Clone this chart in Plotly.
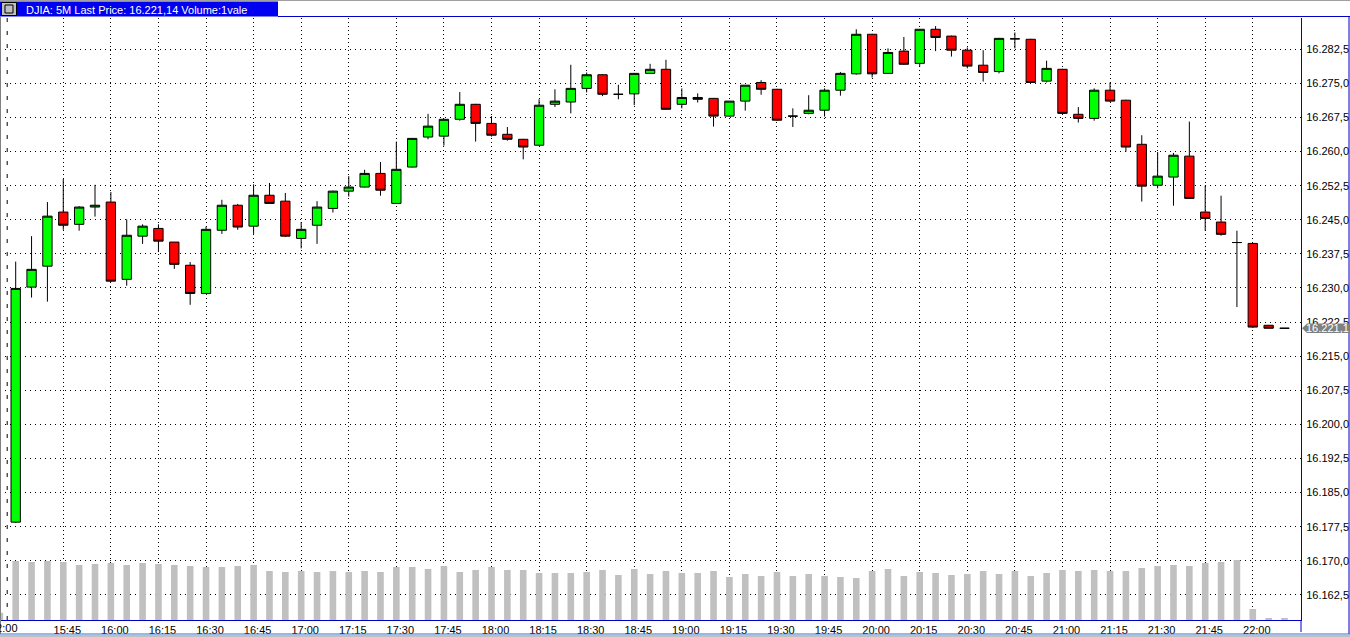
import plotly.graph_objects as go
import pandas as pd

# ---------------- data ----------------
DAY = "2014-01-02"
candle_times = pd.date_range(f"{DAY} 15:30", periods=81, freq="5min")
prev_bar_time = pd.Timestamp(f"{DAY} 15:25")   # last bar of previous session (volume only visible)

open_ = [16178.5, 16230.2, 16234.8, 16246.7, 16244.0, 16247.8, 16248.9, 16231.9, 16241.4, 16243.1,
         16240.1, 16235.0, 16228.8, 16242.7, 16248.2, 16243.6, 16250.4, 16249.1, 16240.9, 16243.8,
         16247.5, 16251.3, 16252.2, 16255.2, 16248.6, 16256.6, 16263.2, 16263.4, 16267.1, 16270.4,
         16266.2, 16263.8, 16262.7, 16261.4, 16270.4, 16270.9, 16273.9, 16276.9, 16272.6, 16272.7,
         16277.2, 16278.1, 16270.4, 16271.9, 16271.7, 16267.8, 16271.1, 16275.2, 16273.7, 16267.8,
         16268.4, 16269.1, 16273.5, 16277.1, 16285.8, 16277.2, 16282.1, 16279.4, 16286.9, 16285.4,
         16282.3, 16279.0, 16277.6, 16284.8, 16284.7, 16275.5, 16278.1, 16268.2, 16267.3, 16273.5,
         16271.3, 16261.6, 16252.6, 16254.4, 16259.0, 16246.7, 16244.5, 16240.0, 16239.8, 16221.8,
         16221.14]
high = [16235.8, 16241.4, 16248.9, 16254.0, 16248.0, 16252.7, 16251.1, 16245.1, 16244.0, 16244.0,
        16240.1, 16235.7, 16243.5, 16249.4, 16248.5, 16252.8, 16253.1, 16250.9, 16244.5, 16249.1,
        16251.4, 16254.6, 16256.0, 16257.7, 16262.2, 16263.0, 16268.3, 16267.2, 16273.1, 16270.5,
        16267.8, 16265.4, 16262.8, 16271.5, 16273.7, 16279.1, 16277.4, 16277.0, 16274.7, 16277.3,
        16279.3, 16280.2, 16273.9, 16272.8, 16271.8, 16271.1, 16274.6, 16275.7, 16273.8, 16269.5,
        16272.4, 16273.9, 16277.5, 16286.9, 16285.9, 16282.7, 16285.2, 16286.9, 16287.6, 16285.5,
        16282.9, 16282.3, 16285.0, 16286.2, 16284.8, 16280.0, 16278.2, 16269.8, 16273.9, 16275.2,
        16271.4, 16263.6, 16259.9, 16259.7, 16266.6, 16252.5, 16250.3, 16242.6, 16239.9, 16221.8,
        16221.14]
low = [16178.3, 16227.9, 16227.0, 16242.8, 16242.6, 16245.7, 16231.3, 16230.5, 16239.7, 16237.9,
       16234.2, 16226.3, 16228.7, 16241.9, 16242.8, 16241.9, 16248.6, 16241.2, 16238.7, 16239.7,
       16246.6, 16250.1, 16252.1, 16250.3, 16248.5, 16256.5, 16262.7, 16261.3, 16266.8, 16262.2,
       16263.3, 16262.4, 16258.3, 16261.3, 16269.8, 16268.4, 16273.0, 16272.2, 16271.5, 16270.2,
       16277.1, 16269.2, 16269.5, 16270.8, 16265.5, 16267.7, 16269.0, 16272.5, 16266.8, 16265.4,
       16268.2, 16267.7, 16272.3, 16276.9, 16276.3, 16277.1, 16279.1, 16278.7, 16282.1, 16280.9,
       16278.3, 16275.4, 16277.2, 16282.7, 16275.1, 16275.2, 16268.3, 16266.4, 16266.8, 16270.9,
       16260.0, 16249.0, 16251.9, 16248.1, 16249.6, 16242.6, 16241.5, 16225.8, 16221.2, 16221.1,
       16221.14]
close = [16229.9, 16234.1, 16245.8, 16243.8, 16247.8, 16248.2, 16231.5, 16241.6, 16243.6, 16240.3,
         16235.2, 16228.8, 16242.9, 16248.2, 16243.4, 16250.4, 16248.6, 16241.4, 16242.9, 16247.8,
         16251.3, 16252.2, 16255.2, 16251.5, 16256.1, 16262.9, 16265.6, 16267.1, 16270.4, 16266.2,
         16263.6, 16262.7, 16261.0, 16270.2, 16271.1, 16273.9, 16276.9, 16272.6, 16272.6, 16277.2,
         16278.1, 16269.3, 16271.9, 16271.5, 16267.8, 16271.1, 16274.6, 16273.7, 16266.9, 16267.8,
         16269.1, 16273.5, 16277.2, 16285.8, 16277.1, 16281.8, 16279.2, 16286.9, 16285.1, 16282.3,
         16278.8, 16277.4, 16284.9, 16284.8, 16275.2, 16278.3, 16268.4, 16267.3, 16273.5, 16271.1,
         16261.0, 16252.4, 16254.6, 16259.2, 16249.7, 16245.3, 16241.8, 16240.0, 16221.4, 16221.14,
         16221.14]

# volume (relative units, no scale shown on the chart)
prev_volume = 0.73
volume = [5.9, 5.8, 5.9, 5.8, 5.5, 5.6, 5.7, 5.5, 5.7, 5.6,
          5.5, 5.4, 5.3, 5.3, 5.4, 5.5, 4.9, 4.8, 4.9, 4.8,
          4.9, 4.8, 4.9, 4.8, 5.3, 5.3, 5.1, 5.4, 4.8, 5.0,
          5.3, 5.0, 5.0, 4.7, 4.7, 4.7, 4.8, 5.0, 4.5, 5.1,
          4.6, 4.9, 4.7, 4.7, 4.9, 4.3, 4.6, 4.4, 4.8, 4.4,
          4.6, 4.4, 4.3, 4.2, 4.9, 5.1, 4.4, 4.8, 4.7, 4.5,
          4.6, 4.9, 4.6, 4.9, 4.4, 4.7, 5.0, 4.9, 5.0, 4.9,
          4.9, 5.2, 5.4, 5.5, 5.4, 5.7, 5.8, 6.0, 1.1, 0.2,
          0.2]

time_tick_labels = ["15:45", "16:00", "16:15", "16:30", "16:45", "17:00", "17:15", "17:30",
                    "17:45", "18:00", "18:15", "18:30", "18:45", "19:00", "19:15", "19:30",
                    "19:45", "20:00", "20:15", "20:30", "20:45", "21:00", "21:15", "21:30",
                    "21:45", "22:00"]
prev_session_label = "22:00"
title_text = "DJIA: 5M Last Price: 16.221,14 Volume:1vale"
last_price = 16221.14
last_price_label = "16.221,1"

# ---------------- geometry helpers (layout decoration only) ----------------
W, H = 1350, 637
PL, PR, PT, PB = 0, 1301, 18, 620
def px(x):
    return (x - PL) / (PR - PL)
def py(y):
    return (PB - y) / (PB - PT)

BLUE = "#0000C8"
FONT = "Liberation Sans, Arial, sans-serif"

fig = go.Figure()

fig.add_trace(go.Bar(
    x=[prev_bar_time] + list(candle_times),
    y=[prev_volume] + volume,
    width=125000,
    marker=dict(color="#C0C0C0", line=dict(width=0)),
    yaxis="y2",
    hoverinfo="skip",
))

fig.add_trace(go.Candlestick(
    x=candle_times, open=open_, high=high, low=low, close=close,
    increasing=dict(fillcolor="#00FF00", line=dict(color="black", width=1)),
    decreasing=dict(fillcolor="#FF0000", line=dict(color="black", width=1)),
    whiskerwidth=0,
    hoverinfo="skip",
))

fig.update_layout(
    width=W, height=H,
    margin=dict(l=PL, r=W - PR, t=PT, b=H - PB, pad=0, autoexpand=False),
    paper_bgcolor="white", plot_bgcolor="white",
    separators=",.",
    showlegend=False,
    boxgap=0.16,
    hovermode=False,
    font=dict(family=FONT, size=11, color="black"),
    xaxis=dict(
        type="date",
        range=[pd.Timestamp(f"{DAY} 15:25:03"), pd.Timestamp(f"{DAY} 22:15:12")],
        tickvals=[pd.Timestamp(f"{DAY} {t}") for t in time_tick_labels],
        ticktext=time_tick_labels,
        showgrid=True, gridcolor="black", gridwidth=1, griddash="1px,3px",
        showline=True, linecolor=BLUE, linewidth=1,
        ticks="", ticklabelshift=4,
        zeroline=False,
        rangeslider=dict(visible=False),
        fixedrange=True,
        tickfont=dict(family=FONT, size=11, color="black"),
    ),
    yaxis=dict(
        side="right",
        range=[16156.98, 16289.38],
        tick0=16162.5, dtick=7.5,
        tickformat=",.1f",
        showgrid=True, gridcolor="black", gridwidth=1, griddash="1px,4px",
        showline=True, linecolor=BLUE, linewidth=1,
        ticks="outside", ticklen=2, tickcolor="rgba(0,0,0,0)",
        zeroline=False, fixedrange=True,
        tickfont=dict(family=FONT, size=11, color="black"),
    ),
    yaxis2=dict(overlaying="y", range=[0, 60.2], visible=False, fixedrange=True),
)

shapes = []
# session separator (dashed)
shapes.append(dict(type="line", xref="paper", yref="paper", x0=px(7.2), x1=px(7.2), y0=0, y1=1,
                   line=dict(color="black", width=1, dash="4px,9px")))
# left grey border
shapes.append(dict(type="line", xref="paper", yref="paper", x0=px(0.5), x1=px(0.5), y0=py(634), y1=py(17),
                   line=dict(color="#808080", width=1)))
# title bar
shapes.append(dict(type="line", xref="paper", yref="paper", x0=0, x1=px(W), y0=py(0.5), y1=py(0.5),
                   line=dict(color="#A0A0A0", width=1)))
shapes.append(dict(type="rect", xref="paper", yref="paper", x0=px(0), x1=px(278), y0=py(16.5), y1=py(1.5),
                   fillcolor="#0000F0", line=dict(width=0), layer="above"))
shapes.append(dict(type="line", xref="paper", yref="paper", x0=px(278), x1=px(W), y0=py(16.5), y1=py(16.5),
                   line=dict(color=BLUE, width=1)))
# small icon in title bar
shapes.append(dict(type="rect", xref="paper", yref="paper", x0=px(1.5), x1=px(16.5), y0=py(15.5), y1=py(2.5),
                   fillcolor="#C0C0C0", line=dict(color="black", width=1), layer="above"))
shapes.append(dict(type="rect", xref="paper", yref="paper", x0=px(5), x1=px(13), y0=py(13), y1=py(5),
                   fillcolor="#C0C0C0", line=dict(color="black", width=1), layer="above"))
# frame lines
shapes.append(dict(type="line", xref="paper", yref="paper", x0=px(1349), x1=px(1349), y0=py(634), y1=py(17),
                   line=dict(color=BLUE, width=1)))
shapes.append(dict(type="line", xref="paper", yref="paper", x0=px(PR), x1=px(PR), y0=py(632), y1=py(620),
                   line=dict(color=BLUE, width=1)))
shapes.append(dict(type="line", xref="paper", yref="paper", x0=0, x1=px(W), y0=py(634), y1=py(634),
                   line=dict(color="#3070D0", width=1)))
shapes.append(dict(type="rect", xref="paper", yref="paper", x0=0, x1=px(W), y0=py(637), y1=py(635),
                   fillcolor="#C0C0C0", line=dict(width=0)))
# last price tag
tag_half = 1.03
shapes.append(dict(type="path", xref="paper", yref="y", layer="above",
                   path=(f"M {px(1302)},{last_price} L {px(1307)},{last_price + tag_half} "
                         f"L {px(1350)},{last_price + tag_half} L {px(1350)},{last_price - tag_half} "
                         f"L {px(1307)},{last_price - tag_half} Z"),
                   fillcolor="#808080", line=dict(width=0)))
fig.update_layout(shapes=shapes)

annotations = [
    dict(xref="paper", yref="paper", x=px(24), y=py(9.5), xanchor="left", yanchor="middle",
         text=title_text, showarrow=False, font=dict(family=FONT, size=11, color="white")),
    dict(xref="paper", yref="y", x=px(1305), y=last_price, xanchor="left", yanchor="middle",
         text=last_price_label, showarrow=False, borderpad=0,
         font=dict(family=FONT, size=11, color="white")),
    dict(xref="paper", yref="paper", x=px(4.4), y=py(628.5), xanchor="center", yanchor="middle",
         text=prev_session_label, showarrow=False, font=dict(family=FONT, size=11, color="black")),
]
fig.update_layout(annotations=annotations)

fig.write_html("out.html", config={"displayModeBar": False},
               post_script="document.body.style.margin='0';document.body.style.padding='0';")
